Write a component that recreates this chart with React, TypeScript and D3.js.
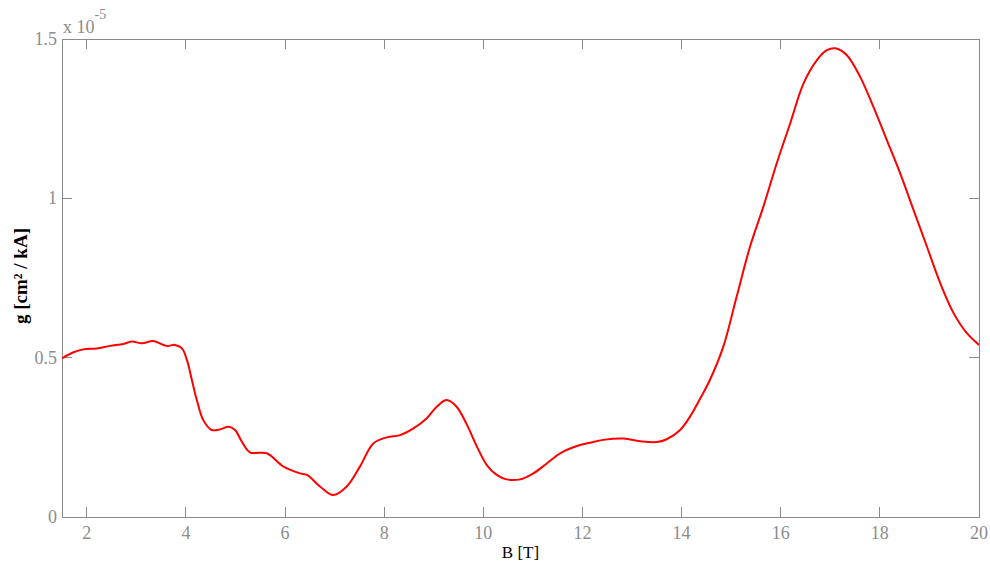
import React from "react";
import * as d3 from "d3";

const B_VALUES = [1.5, 1.73, 1.93, 2.2, 2.47, 2.74, 2.91, 3.11, 3.34, 3.61, 3.78, 3.92, 4.02, 4.12, 4.22, 4.35, 4.52, 4.69, 4.86, 4.99, 5.13, 5.29, 5.63, 5.97, 6.3, 6.44, 6.71, 6.97, 7.24, 7.51, 7.78, 8.05, 8.32, 8.59, 8.86, 9.06, 9.26, 9.46, 9.67, 9.87, 10.07, 10.27, 10.47, 10.74, 11.01, 11.28, 11.55, 11.89, 12.15, 12.42, 12.83, 13.16, 13.5, 13.7, 13.97, 14.17, 14.37, 14.57, 14.84, 15.11, 15.38, 15.65, 15.92, 16.19, 16.46, 16.73, 16.93, 17.1, 17.33, 17.6, 17.87, 18.14, 18.41, 18.68, 18.95, 19.22, 19.49, 19.76, 20.0];
const G_VALUES = [0.498, 0.517, 0.526, 0.529, 0.537, 0.543, 0.551, 0.545, 0.552, 0.537, 0.54, 0.529, 0.493, 0.43, 0.367, 0.304, 0.273, 0.275, 0.283, 0.273, 0.236, 0.203, 0.2, 0.158, 0.137, 0.132, 0.095, 0.069, 0.095, 0.158, 0.231, 0.25, 0.257, 0.278, 0.31, 0.346, 0.367, 0.346, 0.289, 0.221, 0.163, 0.132, 0.118, 0.118, 0.137, 0.168, 0.2, 0.223, 0.233, 0.242, 0.246, 0.238, 0.235, 0.244, 0.273, 0.315, 0.37, 0.43, 0.534, 0.691, 0.848, 0.974, 1.11, 1.235, 1.361, 1.434, 1.465, 1.471, 1.45, 1.382, 1.287, 1.183, 1.078, 0.963, 0.848, 0.733, 0.639, 0.576, 0.54];
const X_TICKS = [2, 4, 6, 8, 10, 12, 14, 16, 18, 20];
const Y_TICKS = [0, 0.5, 1, 1.5];
const Y_TICK_LABELS = ["0", "0.5", "1", "1.5"];

const W = 990;
const H = 567;
const left = 62;
const right = 979;
const top = 39;
const bottom = 517;
const axisColor = "#8a8a8a";
const labelColor = "#8c8c8c";
const serif = "'Liberation Serif', 'Times New Roman', serif";

export default function App() {
  const x = d3.scaleLinear().domain([1.5, 20]).range([left, right]);
  const y = d3.scaleLinear().domain([0, 1.5]).range([bottom, top]);
  const data = B_VALUES.map((b, i) => [b, G_VALUES[i]] as [number, number]);
  const line = d3
    .line<[number, number]>()
    .x((d) => x(d[0]))
    .y((d) => y(d[1]))
    .curve(d3.curveCatmullRom.alpha(0.5));
  const tick = 10;
  return (
    <svg
      width={W}
      height={H}
      style={{ position: "absolute", left: 0, top: 0, background: "#fff" }}
    >
      <rect x={0} y={0} width={W} height={H} fill="#fff" />
      <defs>
        <clipPath id="plotclip">
          <rect x={left} y={top} width={right - left} height={bottom - top} />
        </clipPath>
      </defs>
      <rect
        x={left}
        y={top}
        width={right - left}
        height={bottom - top}
        fill="none"
        stroke={axisColor}
        strokeWidth={1}
        shapeRendering="crispEdges"
      />
      {X_TICKS.map((t) => (
        <g key={"xt" + t}>
          <line x1={x(t)} x2={x(t)} y1={bottom} y2={bottom - tick} stroke={axisColor} shapeRendering="crispEdges" />
          <line x1={x(t)} x2={x(t)} y1={top} y2={top + tick} stroke={axisColor} shapeRendering="crispEdges" />
          <text
            x={x(t)}
            y={bottom + 22}
            fill={labelColor}
            fontFamily={serif}
            fontSize={18}
            textAnchor="middle"
          >
            {t}
          </text>
        </g>
      ))}
      {Y_TICKS.map((t, i) => (
        <g key={"yt" + t}>
          <line x1={left} x2={left + tick} y1={y(t)} y2={y(t)} stroke={axisColor} shapeRendering="crispEdges" />
          <line x1={right} x2={right - tick} y1={y(t)} y2={y(t)} stroke={axisColor} shapeRendering="crispEdges" />
          <text
            x={left - 5}
            y={y(t) + 6}
            fill={labelColor}
            fontFamily={serif}
            fontSize={18}
            textAnchor="end"
          >
            {Y_TICK_LABELS[i]}
          </text>
        </g>
      ))}
      <text x={left + 1} y={top - 6} fill={labelColor} fontFamily={serif} fontSize={18}>
        x 10
        <tspan dy={-14} fontSize={14}>-5</tspan>
      </text>
      <path
        d={line(data) || ""}
        fill="none"
        stroke="#ff0000"
        strokeWidth={2}
        clipPath="url(#plotclip)"
      />
      <text
        x={(left + right) / 2}
        y={558}
        fill="#000"
        fontFamily={serif}
        fontSize={17}
        textAnchor="middle"
      >
        B [T]
      </text>
      <text
        transform={`translate(27, 276) rotate(-90)`}
        fill="#000"
        fontFamily={serif}
        fontSize={19}
        fontWeight="bold"
        textAnchor="middle"
      >
        g [cm² / kA]
      </text>
    </svg>
  );
}
